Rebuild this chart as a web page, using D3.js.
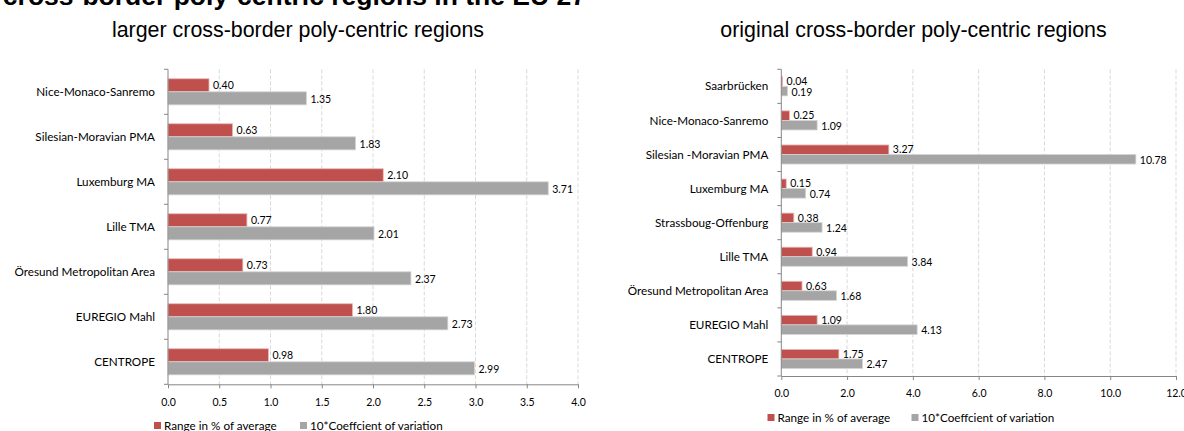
<!DOCTYPE html>
<html>
<head>
<meta charset="utf-8">
<script src="https://cdn.jsdelivr.net/npm/d3@7"></script>
<style>
  html, body { margin: 0; padding: 0; background: #fff; overflow: hidden; }
  svg { display: block; }
</style>
</head>
<body>
<svg id="chart" width="1184" height="431"></svg>
<script>
// ---- Data ----
const mainTitle = "cross-border poly-centric regions in the EU 27";
const seriesNames = ["Range in % of average", "10*Coeffcient of variation"];
const seriesColors = ["#c0504d", "#a5a5a5"];

const leftTitle = "larger cross-border poly-centric regions";
const leftCategories = ["Nice-Monaco-Sanremo", "Silesian-Moravian PMA", "Luxemburg MA", "Lille TMA", "Öresund Metropolitan Area", "EUREGIO Mahl", "CENTROPE"];
const leftRange = [0.40, 0.63, 2.10, 0.77, 0.73, 1.80, 0.98];
const leftCV = [1.35, 1.83, 3.71, 2.01, 2.37, 2.73, 2.99];
const leftTicks = [0, 0.5, 1, 1.5, 2, 2.5, 3, 3.5, 4];

const rightTitle = "original cross-border poly-centric regions";
const rightCategories = ["Saarbrücken", "Nice-Monaco-Sanremo", "Silesian -Moravian PMA", "Luxemburg MA", "Strassboug-Offenburg", "Lille TMA", "Öresund Metropolitan Area", "EUREGIO Mahl", "CENTROPE"];
const rightRange = [0.04, 0.25, 3.27, 0.15, 0.38, 0.94, 0.63, 1.09, 1.75];
const rightCV = [0.19, 1.09, 10.78, 0.74, 1.24, 3.84, 1.68, 4.13, 2.47];
const rightTicks = [0, 2, 4, 6, 8, 10, 12];

const svg = d3.select("#chart");
const labelFont = "Lato, 'Open Sans', sans-serif";

// main title (clipped at top as in reference)
svg.append("text")
  .attr("x", 586).attr("y", 5)
  .attr("text-anchor", "end")
  .attr("font-family", "'Liberation Sans', Arial, sans-serif")
  .attr("font-weight", "bold")
  .attr("font-size", 26.5)
  .attr("fill", "#000")
  .text(mainTitle);

function drawPanel(cfg) {
  const g = svg.append("g");
  const x = d3.scaleLinear().domain([cfg.ticks[0], cfg.ticks[cfg.ticks.length - 1]]).range([cfg.x0, cfg.x1]);
  const y = d3.scaleBand().domain(cfg.categories).range([cfg.y0, cfg.y1])
    .paddingInner(cfg.pad).paddingOuter(cfg.pad / 2);
  const ys = d3.scaleBand().domain([0, 1]).range([0, y.bandwidth()]);

  // subtitle
  g.append("text")
    .attr("x", cfg.titleX).attr("y", 37)
    .attr("text-anchor", "middle")
    .attr("font-family", "'Liberation Sans', Arial, sans-serif")
    .attr("font-size", 21.4)
    .attr("fill", "#000")
    .text(cfg.title);

  // gridlines
  g.selectAll(".grid").data(cfg.ticks.slice(1)).enter().append("line")
    .attr("x1", d => x(d)).attr("x2", d => x(d))
    .attr("y1", cfg.y0).attr("y2", cfg.y1)
    .attr("stroke", "#d9d9d9").attr("stroke-width", 1)
    .attr("stroke-dasharray", "4,2");

  // x axis
  const xAxis = d3.axisBottom(x).tickValues(cfg.ticks).tickFormat(d3.format(".1f"))
    .tickSizeInner(4).tickSizeOuter(0).tickPadding(10);
  const xg = g.append("g").attr("transform", `translate(0,${cfg.y1})`).call(xAxis);
  xg.select(".domain").attr("stroke", "#868686");
  xg.selectAll(".tick line").attr("stroke", "#868686");
  xg.selectAll(".tick text").attr("font-family", labelFont).attr("font-size", 10.5).attr("fill", "#000");

  // bars
  const series = [cfg.range, cfg.cv];
  series.forEach((vals, si) => {
    g.selectAll(".bar" + si).data(cfg.categories).enter().append("rect")
      .attr("x", x(0))
      .attr("y", (c) => y(c) + ys(si))
      .attr("width", (c, i) => x(vals[i]) - x(0))
      .attr("height", ys.bandwidth())
      .attr("fill", seriesColors[si])
      .attr("stroke", si === 1 ? "#d4d4d4" : "#e6b9b8")
      .attr("stroke-width", 0.8);
    g.selectAll(".lab" + si).data(cfg.categories).enter().append("text")
      .attr("x", (c, i) => x(vals[i]) + 4)
      .attr("y", (c) => y(c) + ys(si) + ys.bandwidth() / 2 + (si === 1 ? 1 : 0))
      .attr("dy", "0.35em")
      .attr("font-family", labelFont)
      .attr("font-size", 10.5)
      .attr("fill", "#000")
      .text((c, i) => d3.format(".2f")(vals[i]));
  });

  // y axis line and ticks at band boundaries
  g.append("line").attr("x1", x(0)).attr("x2", x(0)).attr("y1", cfg.y0).attr("y2", cfg.y1)
    .attr("stroke", "#868686");
  const bounds = d3.range(cfg.categories.length + 1).map(i => cfg.y0 + i * y.step());
  g.selectAll(".ytick").data(bounds).enter().append("line")
    .attr("x1", x(0) - 4).attr("x2", x(0)).attr("y1", d => d).attr("y2", d => d)
    .attr("stroke", "#868686");

  // category labels
  g.selectAll(".cat").data(cfg.categories).enter().append("text")
    .attr("x", x(0) - 13)
    .attr("y", c => y(c) + y.bandwidth() / 2)
    .attr("dy", "0.35em")
    .attr("text-anchor", "end")
    .attr("font-family", labelFont)
    .attr("font-size", 11.7)
    .attr("fill", "#000")
    .text(c => c);

  // legend
  const lg = g.append("g");
  cfg.legendX.forEach((lx, i) => {
    lg.append("rect").attr("x", lx).attr("y", cfg.legendY - 4).attr("width", 7).attr("height", 7)
      .attr("fill", seriesColors[i]);
    lg.append("text").attr("x", lx + 10).attr("y", cfg.legendY).attr("dy", "0.35em")
      .attr("font-family", labelFont).attr("font-size", 11.7).attr("fill", "#000")
      .text(seriesNames[i]);
  });
}

drawPanel({
  title: leftTitle, titleX: 298,
  categories: leftCategories, range: leftRange, cv: leftCV, ticks: leftTicks,
  x0: 168, x1: 578, y0: 69.3, y1: 384.3, pad: 0.42,
  legendX: [154, 300], legendY: 426
});

drawPanel({
  title: rightTitle, titleX: 913.5,
  categories: rightCategories, range: rightRange, cv: rightCV, ticks: rightTicks,
  x0: 781.3, x1: 1176, y0: 69.3, y1: 376, pad: 0.44,
  legendX: [767.5, 911.5], legendY: 418
});
</script>
</body>
</html>
